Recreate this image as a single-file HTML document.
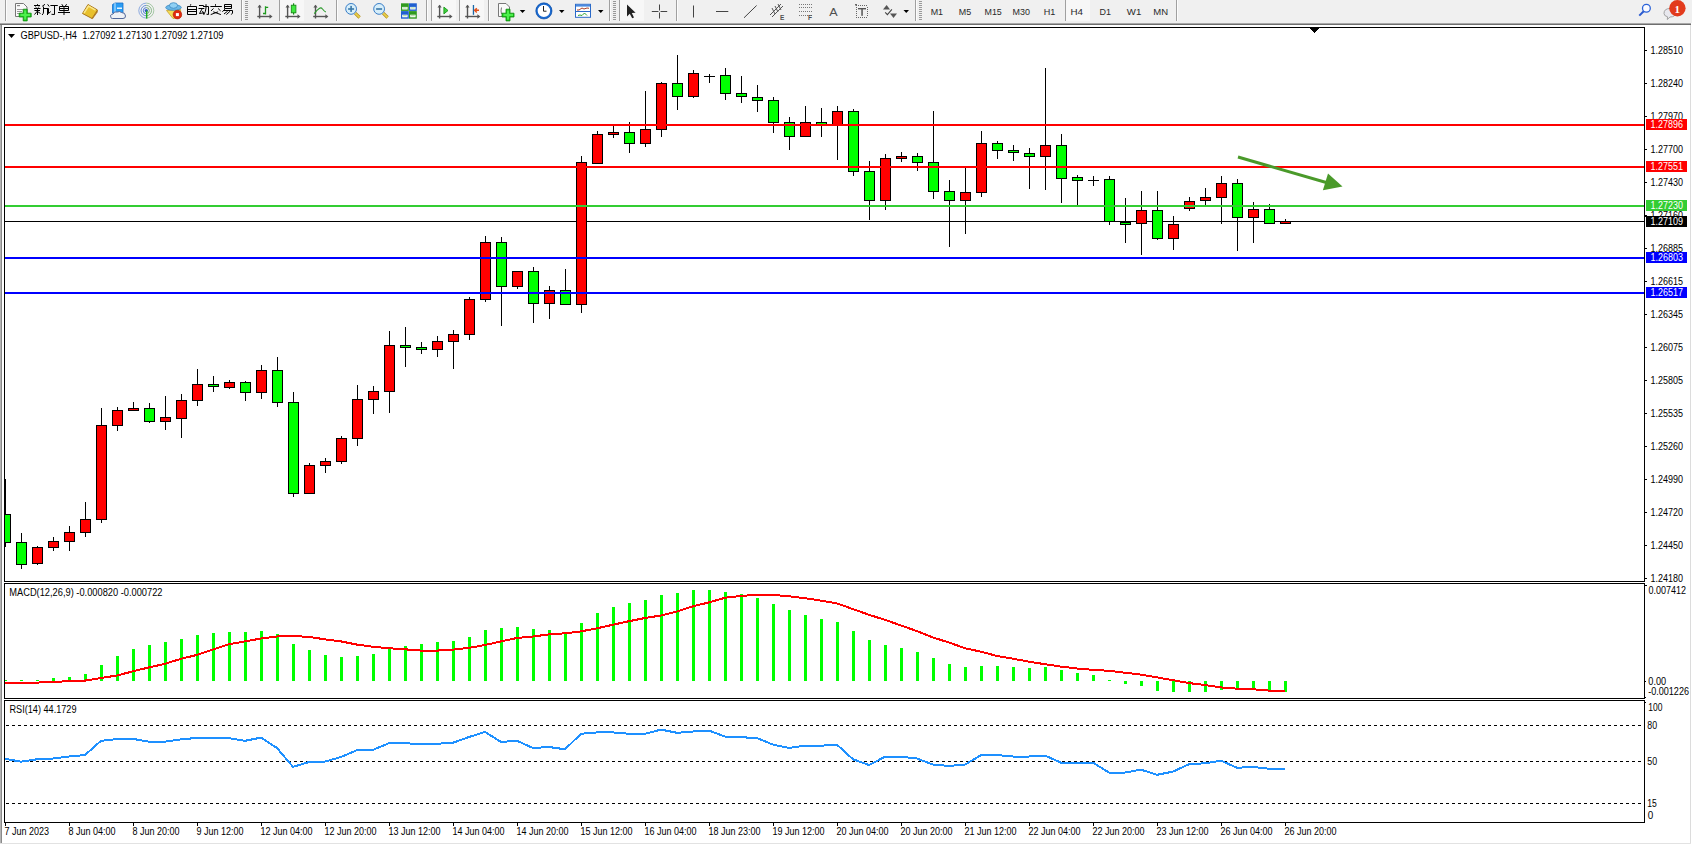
<!DOCTYPE html>
<html><head><meta charset="utf-8"><title>MT4 GBPUSD H4</title>
<style>
html,body{margin:0;padding:0;background:#fff;}
body{width:1692px;height:845px;overflow:hidden;position:relative;font-family:"Liberation Sans",sans-serif;}
svg{position:absolute;left:0;top:0;display:block;}
</style></head><body>
<svg width="1692" height="845" viewBox="0 0 1692 845">
<rect x="0" y="0" width="1692" height="23" fill="#f0f0f0"/><rect x="0" y="23" width="1691" height="1" fill="#a8a8a8"/><rect x="0" y="24" width="1691" height="1" fill="#6e6e6e"/><rect x="0" y="25" width="1692" height="820" fill="#ffffff"/><rect x="0" y="25" width="1" height="818" fill="#b4b4b4"/><rect x="1" y="25" width="1" height="818" fill="#8a8a8a"/><rect x="1690" y="25" width="1" height="818" fill="#dcdcdc"/><rect x="0" y="843" width="1691" height="1" fill="#e2e2e2"/><rect x="4" y="27" width="1641" height="1" fill="#000"/><rect x="4" y="27" width="1" height="555" fill="#000"/><rect x="1644" y="27" width="1" height="555" fill="#000"/><rect x="4" y="581" width="1641" height="1" fill="#000"/><rect x="4" y="583" width="1641" height="1" fill="#000"/><rect x="4" y="583" width="1" height="116" fill="#000"/><rect x="1644" y="583" width="1" height="116" fill="#000"/><rect x="4" y="698" width="1641" height="1" fill="#000"/><rect x="4" y="700" width="1641" height="1" fill="#000"/><rect x="4" y="700" width="1" height="123" fill="#000"/><rect x="1644" y="700" width="1" height="123" fill="#000"/><rect x="4" y="822" width="1641" height="1" fill="#000"/><defs><clipPath id="cm"><rect x="5" y="28" width="1639" height="553"/></clipPath><clipPath id="cd"><rect x="5" y="584" width="1639" height="114"/></clipPath><clipPath id="cr"><rect x="5" y="701" width="1639" height="121"/></clipPath></defs><g clip-path="url(#cm)" shape-rendering="crispEdges"><rect x="5" y="221" width="1639" height="1" fill="#000"/><rect x="5" y="479" width="1" height="68" fill="#000"/><rect x="0" y="514" width="11" height="29" fill="#000"/><rect x="1" y="515" width="9" height="27" fill="#00ff00"/><rect x="21" y="533" width="1" height="36" fill="#000"/><rect x="16" y="542" width="11" height="23" fill="#000"/><rect x="17" y="543" width="9" height="21" fill="#00ff00"/><rect x="37" y="546" width="1" height="19" fill="#000"/><rect x="32" y="547" width="11" height="17" fill="#000"/><rect x="33" y="548" width="9" height="15" fill="#ff0000"/><rect x="53" y="537" width="1" height="14" fill="#000"/><rect x="48" y="541" width="11" height="7" fill="#000"/><rect x="49" y="542" width="9" height="5" fill="#ff0000"/><rect x="69" y="526" width="1" height="25" fill="#000"/><rect x="64" y="532" width="11" height="10" fill="#000"/><rect x="65" y="533" width="9" height="8" fill="#ff0000"/><rect x="85" y="502" width="1" height="35" fill="#000"/><rect x="80" y="519" width="11" height="14" fill="#000"/><rect x="81" y="520" width="9" height="12" fill="#ff0000"/><rect x="101" y="408" width="1" height="115" fill="#000"/><rect x="96" y="425" width="11" height="95" fill="#000"/><rect x="97" y="426" width="9" height="93" fill="#ff0000"/><rect x="117" y="407" width="1" height="24" fill="#000"/><rect x="112" y="410" width="11" height="16" fill="#000"/><rect x="113" y="411" width="9" height="14" fill="#ff0000"/><rect x="133" y="402" width="1" height="9" fill="#000"/><rect x="128" y="408" width="11" height="3" fill="#000"/><rect x="129" y="409" width="9" height="1" fill="#ff0000"/><rect x="149" y="403" width="1" height="20" fill="#000"/><rect x="144" y="408" width="11" height="14" fill="#000"/><rect x="145" y="409" width="9" height="12" fill="#00ff00"/><rect x="165" y="396" width="1" height="34" fill="#000"/><rect x="160" y="417" width="11" height="5" fill="#000"/><rect x="161" y="418" width="9" height="3" fill="#ff0000"/><rect x="181" y="394" width="1" height="44" fill="#000"/><rect x="176" y="400" width="11" height="19" fill="#000"/><rect x="177" y="401" width="9" height="17" fill="#ff0000"/><rect x="197" y="369" width="1" height="37" fill="#000"/><rect x="192" y="384" width="11" height="17" fill="#000"/><rect x="193" y="385" width="9" height="15" fill="#ff0000"/><rect x="213" y="376" width="1" height="16" fill="#000"/><rect x="208" y="384" width="11" height="3" fill="#000"/><rect x="209" y="385" width="9" height="1" fill="#00ff00"/><rect x="229" y="380" width="1" height="9" fill="#000"/><rect x="224" y="382" width="11" height="6" fill="#000"/><rect x="225" y="383" width="9" height="4" fill="#ff0000"/><rect x="245" y="381" width="1" height="20" fill="#000"/><rect x="240" y="382" width="11" height="11" fill="#000"/><rect x="241" y="383" width="9" height="9" fill="#00ff00"/><rect x="261" y="365" width="1" height="34" fill="#000"/><rect x="256" y="370" width="11" height="23" fill="#000"/><rect x="257" y="371" width="9" height="21" fill="#ff0000"/><rect x="277" y="357" width="1" height="50" fill="#000"/><rect x="272" y="370" width="11" height="33" fill="#000"/><rect x="273" y="371" width="9" height="31" fill="#00ff00"/><rect x="293" y="392" width="1" height="105" fill="#000"/><rect x="288" y="402" width="11" height="92" fill="#000"/><rect x="289" y="403" width="9" height="90" fill="#00ff00"/><rect x="309" y="463" width="1" height="31" fill="#000"/><rect x="304" y="465" width="11" height="29" fill="#000"/><rect x="305" y="466" width="9" height="27" fill="#ff0000"/><rect x="325" y="458" width="1" height="15" fill="#000"/><rect x="320" y="461" width="11" height="5" fill="#000"/><rect x="321" y="462" width="9" height="3" fill="#ff0000"/><rect x="341" y="436" width="1" height="28" fill="#000"/><rect x="336" y="438" width="11" height="24" fill="#000"/><rect x="337" y="439" width="9" height="22" fill="#ff0000"/><rect x="357" y="385" width="1" height="61" fill="#000"/><rect x="352" y="399" width="11" height="40" fill="#000"/><rect x="353" y="400" width="9" height="38" fill="#ff0000"/><rect x="373" y="386" width="1" height="28" fill="#000"/><rect x="368" y="391" width="11" height="9" fill="#000"/><rect x="369" y="392" width="9" height="7" fill="#ff0000"/><rect x="389" y="331" width="1" height="82" fill="#000"/><rect x="384" y="345" width="11" height="47" fill="#000"/><rect x="385" y="346" width="9" height="45" fill="#ff0000"/><rect x="405" y="327" width="1" height="40" fill="#000"/><rect x="400" y="345" width="11" height="3" fill="#000"/><rect x="401" y="346" width="9" height="1" fill="#00ff00"/><rect x="421" y="342" width="1" height="12" fill="#000"/><rect x="416" y="347" width="11" height="3" fill="#000"/><rect x="417" y="348" width="9" height="1" fill="#00ff00"/><rect x="437" y="336" width="1" height="21" fill="#000"/><rect x="432" y="341" width="11" height="9" fill="#000"/><rect x="433" y="342" width="9" height="7" fill="#ff0000"/><rect x="453" y="330" width="1" height="39" fill="#000"/><rect x="448" y="334" width="11" height="8" fill="#000"/><rect x="449" y="335" width="9" height="6" fill="#ff0000"/><rect x="469" y="297" width="1" height="43" fill="#000"/><rect x="464" y="299" width="11" height="36" fill="#000"/><rect x="465" y="300" width="9" height="34" fill="#ff0000"/><rect x="485" y="236" width="1" height="66" fill="#000"/><rect x="480" y="242" width="11" height="58" fill="#000"/><rect x="481" y="243" width="9" height="56" fill="#ff0000"/><rect x="501" y="237" width="1" height="89" fill="#000"/><rect x="496" y="242" width="11" height="45" fill="#000"/><rect x="497" y="243" width="9" height="43" fill="#00ff00"/><rect x="517" y="271" width="1" height="18" fill="#000"/><rect x="512" y="271" width="11" height="16" fill="#000"/><rect x="513" y="272" width="9" height="14" fill="#ff0000"/><rect x="533" y="267" width="1" height="56" fill="#000"/><rect x="528" y="271" width="11" height="33" fill="#000"/><rect x="529" y="272" width="9" height="31" fill="#00ff00"/><rect x="549" y="286" width="1" height="33" fill="#000"/><rect x="544" y="290" width="11" height="14" fill="#000"/><rect x="545" y="291" width="9" height="12" fill="#ff0000"/><rect x="565" y="269" width="1" height="36" fill="#000"/><rect x="560" y="290" width="11" height="15" fill="#000"/><rect x="561" y="291" width="9" height="13" fill="#00ff00"/><rect x="581" y="156" width="1" height="157" fill="#000"/><rect x="576" y="162" width="11" height="143" fill="#000"/><rect x="577" y="163" width="9" height="141" fill="#ff0000"/><rect x="597" y="131" width="1" height="33" fill="#000"/><rect x="592" y="134" width="11" height="30" fill="#000"/><rect x="593" y="135" width="9" height="28" fill="#ff0000"/><rect x="613" y="126" width="1" height="12" fill="#000"/><rect x="608" y="132" width="11" height="3" fill="#000"/><rect x="609" y="133" width="9" height="1" fill="#ff0000"/><rect x="629" y="122" width="1" height="31" fill="#000"/><rect x="624" y="132" width="11" height="12" fill="#000"/><rect x="625" y="133" width="9" height="10" fill="#00ff00"/><rect x="645" y="91" width="1" height="56" fill="#000"/><rect x="640" y="129" width="11" height="15" fill="#000"/><rect x="641" y="130" width="9" height="13" fill="#ff0000"/><rect x="661" y="82" width="1" height="55" fill="#000"/><rect x="656" y="83" width="11" height="47" fill="#000"/><rect x="657" y="84" width="9" height="45" fill="#ff0000"/><rect x="677" y="55" width="1" height="55" fill="#000"/><rect x="672" y="83" width="11" height="14" fill="#000"/><rect x="673" y="84" width="9" height="12" fill="#00ff00"/><rect x="693" y="70" width="1" height="28" fill="#000"/><rect x="688" y="73" width="11" height="24" fill="#000"/><rect x="689" y="74" width="9" height="22" fill="#ff0000"/><rect x="709" y="74" width="1" height="9" fill="#000"/><rect x="704" y="76" width="11" height="1" fill="#000"/><rect x="725" y="68" width="1" height="32" fill="#000"/><rect x="720" y="75" width="11" height="19" fill="#000"/><rect x="721" y="76" width="9" height="17" fill="#00ff00"/><rect x="741" y="76" width="1" height="27" fill="#000"/><rect x="736" y="93" width="11" height="4" fill="#000"/><rect x="737" y="94" width="9" height="2" fill="#00ff00"/><rect x="757" y="85" width="1" height="27" fill="#000"/><rect x="752" y="97" width="11" height="4" fill="#000"/><rect x="753" y="98" width="9" height="2" fill="#00ff00"/><rect x="773" y="97" width="1" height="36" fill="#000"/><rect x="768" y="100" width="11" height="23" fill="#000"/><rect x="769" y="101" width="9" height="21" fill="#00ff00"/><rect x="789" y="117" width="1" height="33" fill="#000"/><rect x="784" y="122" width="11" height="15" fill="#000"/><rect x="785" y="123" width="9" height="13" fill="#00ff00"/><rect x="805" y="106" width="1" height="31" fill="#000"/><rect x="800" y="122" width="11" height="15" fill="#000"/><rect x="801" y="123" width="9" height="13" fill="#ff0000"/><rect x="821" y="108" width="1" height="29" fill="#000"/><rect x="816" y="122" width="11" height="3" fill="#000"/><rect x="817" y="123" width="9" height="1" fill="#00ff00"/><rect x="837" y="106" width="1" height="54" fill="#000"/><rect x="832" y="111" width="11" height="14" fill="#000"/><rect x="833" y="112" width="9" height="12" fill="#ff0000"/><rect x="853" y="109" width="1" height="67" fill="#000"/><rect x="848" y="111" width="11" height="61" fill="#000"/><rect x="849" y="112" width="9" height="59" fill="#00ff00"/><rect x="869" y="161" width="1" height="59" fill="#000"/><rect x="864" y="171" width="11" height="30" fill="#000"/><rect x="865" y="172" width="9" height="28" fill="#00ff00"/><rect x="885" y="154" width="1" height="56" fill="#000"/><rect x="880" y="158" width="11" height="43" fill="#000"/><rect x="881" y="159" width="9" height="41" fill="#ff0000"/><rect x="901" y="152" width="1" height="10" fill="#000"/><rect x="896" y="156" width="11" height="3" fill="#000"/><rect x="897" y="157" width="9" height="1" fill="#ff0000"/><rect x="917" y="153" width="1" height="18" fill="#000"/><rect x="912" y="156" width="11" height="7" fill="#000"/><rect x="913" y="157" width="9" height="5" fill="#00ff00"/><rect x="933" y="111" width="1" height="88" fill="#000"/><rect x="928" y="162" width="11" height="30" fill="#000"/><rect x="929" y="163" width="9" height="28" fill="#00ff00"/><rect x="949" y="180" width="1" height="67" fill="#000"/><rect x="944" y="191" width="11" height="10" fill="#000"/><rect x="945" y="192" width="9" height="8" fill="#00ff00"/><rect x="965" y="167" width="1" height="67" fill="#000"/><rect x="960" y="192" width="11" height="9" fill="#000"/><rect x="961" y="193" width="9" height="7" fill="#ff0000"/><rect x="981" y="131" width="1" height="66" fill="#000"/><rect x="976" y="143" width="11" height="50" fill="#000"/><rect x="977" y="144" width="9" height="48" fill="#ff0000"/><rect x="997" y="141" width="1" height="18" fill="#000"/><rect x="992" y="143" width="11" height="8" fill="#000"/><rect x="993" y="144" width="9" height="6" fill="#00ff00"/><rect x="1013" y="145" width="1" height="16" fill="#000"/><rect x="1008" y="150" width="11" height="3" fill="#000"/><rect x="1009" y="151" width="9" height="1" fill="#00ff00"/><rect x="1029" y="148" width="1" height="41" fill="#000"/><rect x="1024" y="153" width="11" height="4" fill="#000"/><rect x="1025" y="154" width="9" height="2" fill="#00ff00"/><rect x="1045" y="68" width="1" height="122" fill="#000"/><rect x="1040" y="145" width="11" height="12" fill="#000"/><rect x="1041" y="146" width="9" height="10" fill="#ff0000"/><rect x="1061" y="134" width="1" height="69" fill="#000"/><rect x="1056" y="145" width="11" height="34" fill="#000"/><rect x="1057" y="146" width="9" height="32" fill="#00ff00"/><rect x="1077" y="175" width="1" height="30" fill="#000"/><rect x="1072" y="177" width="11" height="4" fill="#000"/><rect x="1073" y="178" width="9" height="2" fill="#00ff00"/><rect x="1093" y="176" width="1" height="10" fill="#000"/><rect x="1088" y="180" width="11" height="1" fill="#000"/><rect x="1109" y="176" width="1" height="49" fill="#000"/><rect x="1104" y="179" width="11" height="43" fill="#000"/><rect x="1105" y="180" width="9" height="41" fill="#00ff00"/><rect x="1125" y="198" width="1" height="45" fill="#000"/><rect x="1120" y="222" width="11" height="3" fill="#000"/><rect x="1121" y="223" width="9" height="1" fill="#00ff00"/><rect x="1141" y="191" width="1" height="64" fill="#000"/><rect x="1136" y="210" width="11" height="14" fill="#000"/><rect x="1137" y="211" width="9" height="12" fill="#ff0000"/><rect x="1157" y="191" width="1" height="49" fill="#000"/><rect x="1152" y="210" width="11" height="29" fill="#000"/><rect x="1153" y="211" width="9" height="27" fill="#00ff00"/><rect x="1173" y="216" width="1" height="34" fill="#000"/><rect x="1168" y="224" width="11" height="15" fill="#000"/><rect x="1169" y="225" width="9" height="13" fill="#ff0000"/><rect x="1189" y="197" width="1" height="14" fill="#000"/><rect x="1184" y="201" width="11" height="8" fill="#000"/><rect x="1185" y="202" width="9" height="6" fill="#ff0000"/><rect x="1205" y="188" width="1" height="17" fill="#000"/><rect x="1200" y="197" width="11" height="4" fill="#000"/><rect x="1201" y="198" width="9" height="2" fill="#ff0000"/><rect x="1221" y="176" width="1" height="48" fill="#000"/><rect x="1216" y="183" width="11" height="15" fill="#000"/><rect x="1217" y="184" width="9" height="13" fill="#ff0000"/><rect x="1237" y="179" width="1" height="72" fill="#000"/><rect x="1232" y="183" width="11" height="35" fill="#000"/><rect x="1233" y="184" width="9" height="33" fill="#00ff00"/><rect x="1253" y="202" width="1" height="41" fill="#000"/><rect x="1248" y="209" width="11" height="9" fill="#000"/><rect x="1249" y="210" width="9" height="7" fill="#ff0000"/><rect x="1269" y="204" width="1" height="20" fill="#000"/><rect x="1264" y="209" width="11" height="15" fill="#000"/><rect x="1265" y="210" width="9" height="13" fill="#00ff00"/><rect x="1285" y="219" width="1" height="5" fill="#000"/><rect x="1280" y="221" width="11" height="3" fill="#000"/><rect x="1281" y="222" width="9" height="1" fill="#ff0000"/><rect x="5" y="124" width="1639" height="2" fill="#ff0000"/><rect x="5" y="166" width="1639" height="2" fill="#ff0000"/><rect x="5" y="205" width="1639" height="2" fill="#32cd32"/><rect x="5" y="257" width="1639" height="2" fill="#0000ff"/><rect x="5" y="292" width="1639" height="2" fill="#0000ff"/><polygon points="1309.5,28 1319.5,28 1314.5,33.5" fill="#000"/></g><g><line x1="1238" y1="157" x2="1328" y2="183" stroke="#4a9a2a" stroke-width="3" stroke-linecap="butt"/><polygon points="1328,173.4 1342.5,186.5 1322.9,190.3" fill="#4a9a2a"/></g><g clip-path="url(#cd)" shape-rendering="crispEdges"><rect x="4" y="680" width="3" height="1" fill="#00ff00"/><rect x="20" y="680" width="3" height="1" fill="#00ff00"/><rect x="36" y="680" width="3" height="1" fill="#00ff00"/><rect x="52" y="678" width="3" height="3" fill="#00ff00"/><rect x="68" y="677" width="3" height="4" fill="#00ff00"/><rect x="84" y="674" width="3" height="7" fill="#00ff00"/><rect x="100" y="665" width="3" height="16" fill="#00ff00"/><rect x="116" y="656" width="3" height="25" fill="#00ff00"/><rect x="132" y="649" width="3" height="32" fill="#00ff00"/><rect x="148" y="645" width="3" height="36" fill="#00ff00"/><rect x="164" y="642" width="3" height="39" fill="#00ff00"/><rect x="180" y="639" width="3" height="42" fill="#00ff00"/><rect x="196" y="635" width="3" height="46" fill="#00ff00"/><rect x="212" y="633" width="3" height="48" fill="#00ff00"/><rect x="228" y="632" width="3" height="49" fill="#00ff00"/><rect x="244" y="632" width="3" height="49" fill="#00ff00"/><rect x="260" y="631" width="3" height="50" fill="#00ff00"/><rect x="276" y="634" width="3" height="47" fill="#00ff00"/><rect x="292" y="644" width="3" height="37" fill="#00ff00"/><rect x="308" y="650" width="3" height="31" fill="#00ff00"/><rect x="324" y="655" width="3" height="26" fill="#00ff00"/><rect x="340" y="657" width="3" height="24" fill="#00ff00"/><rect x="356" y="656" width="3" height="25" fill="#00ff00"/><rect x="372" y="654" width="3" height="27" fill="#00ff00"/><rect x="388" y="649" width="3" height="32" fill="#00ff00"/><rect x="404" y="646" width="3" height="35" fill="#00ff00"/><rect x="420" y="644" width="3" height="37" fill="#00ff00"/><rect x="436" y="642" width="3" height="39" fill="#00ff00"/><rect x="452" y="641" width="3" height="40" fill="#00ff00"/><rect x="468" y="637" width="3" height="44" fill="#00ff00"/><rect x="484" y="630" width="3" height="51" fill="#00ff00"/><rect x="500" y="628" width="3" height="53" fill="#00ff00"/><rect x="516" y="627" width="3" height="54" fill="#00ff00"/><rect x="532" y="629" width="3" height="52" fill="#00ff00"/><rect x="548" y="630" width="3" height="51" fill="#00ff00"/><rect x="564" y="632" width="3" height="49" fill="#00ff00"/><rect x="580" y="623" width="3" height="58" fill="#00ff00"/><rect x="596" y="613" width="3" height="68" fill="#00ff00"/><rect x="612" y="607" width="3" height="74" fill="#00ff00"/><rect x="628" y="603" width="3" height="78" fill="#00ff00"/><rect x="644" y="600" width="3" height="81" fill="#00ff00"/><rect x="660" y="595" width="3" height="86" fill="#00ff00"/><rect x="676" y="593" width="3" height="88" fill="#00ff00"/><rect x="692" y="590" width="3" height="91" fill="#00ff00"/><rect x="708" y="590" width="3" height="91" fill="#00ff00"/><rect x="724" y="592" width="3" height="89" fill="#00ff00"/><rect x="740" y="594" width="3" height="87" fill="#00ff00"/><rect x="756" y="598" width="3" height="83" fill="#00ff00"/><rect x="772" y="604" width="3" height="77" fill="#00ff00"/><rect x="788" y="610" width="3" height="71" fill="#00ff00"/><rect x="804" y="615" width="3" height="66" fill="#00ff00"/><rect x="820" y="619" width="3" height="62" fill="#00ff00"/><rect x="836" y="622" width="3" height="59" fill="#00ff00"/><rect x="852" y="631" width="3" height="50" fill="#00ff00"/><rect x="868" y="640" width="3" height="41" fill="#00ff00"/><rect x="884" y="645" width="3" height="36" fill="#00ff00"/><rect x="900" y="648" width="3" height="33" fill="#00ff00"/><rect x="916" y="652" width="3" height="29" fill="#00ff00"/><rect x="932" y="658" width="3" height="23" fill="#00ff00"/><rect x="948" y="664" width="3" height="17" fill="#00ff00"/><rect x="964" y="667" width="3" height="14" fill="#00ff00"/><rect x="980" y="666" width="3" height="15" fill="#00ff00"/><rect x="996" y="666" width="3" height="15" fill="#00ff00"/><rect x="1012" y="667" width="3" height="14" fill="#00ff00"/><rect x="1028" y="668" width="3" height="13" fill="#00ff00"/><rect x="1044" y="667" width="3" height="14" fill="#00ff00"/><rect x="1060" y="670" width="3" height="11" fill="#00ff00"/><rect x="1076" y="673" width="3" height="8" fill="#00ff00"/><rect x="1092" y="675" width="3" height="6" fill="#00ff00"/><rect x="1108" y="680" width="3" height="1" fill="#00ff00"/><rect x="1124" y="681" width="3" height="3" fill="#00ff00"/><rect x="1140" y="681" width="3" height="5" fill="#00ff00"/><rect x="1156" y="681" width="3" height="10" fill="#00ff00"/><rect x="1172" y="681" width="3" height="11" fill="#00ff00"/><rect x="1188" y="681" width="3" height="11" fill="#00ff00"/><rect x="1204" y="681" width="3" height="11" fill="#00ff00"/><rect x="1220" y="681" width="3" height="9" fill="#00ff00"/><rect x="1236" y="681" width="3" height="9" fill="#00ff00"/><rect x="1252" y="681" width="3" height="9" fill="#00ff00"/><rect x="1268" y="681" width="3" height="11" fill="#00ff00"/><rect x="1284" y="681" width="3" height="11" fill="#00ff00"/></g><g clip-path="url(#cd)"><polyline points="0,683.0 21,682.6 37,682.6 53,682.0 69,681.1 85,680.6 101,678.0 117,675.5 133,671.3 149,667.4 165,663.8 181,658.8 197,654.9 213,649.4 229,644.2 245,641.4 261,638.5 277,636.5 293,636.1 309,636.8 325,639.4 341,641.4 357,644.6 373,646.8 389,648.2 405,649.3 421,650.6 437,650.6 453,649.6 469,647.9 485,645.0 501,641.4 517,638.0 533,636.5 549,634.4 565,633.3 581,631.4 597,628.3 613,624.7 629,621.2 645,618.0 661,615.5 677,611.5 693,606.3 709,602.4 725,597.8 741,595.9 757,594.9 773,594.9 789,596.3 805,598.2 821,600.6 837,603.4 853,609.1 869,614.8 885,619.8 901,625.5 917,631.1 933,637.5 949,642.5 965,648.2 981,651.7 997,656.0 1013,658.7 1029,661.7 1045,664.2 1061,666.6 1077,668.5 1093,669.8 1109,670.8 1125,672.7 1141,674.6 1157,677.4 1173,680.2 1189,683.1 1205,685.0 1221,687.4 1237,688.7 1253,689.3 1269,690.6 1285,691.2" fill="none" stroke="#ff0000" stroke-width="2" shape-rendering="crispEdges"/></g><g clip-path="url(#cr)"><line x1="6" y1="725.5" x2="1644" y2="725.5" stroke="#000" stroke-width="1" stroke-dasharray="3,3"/><line x1="6" y1="761.5" x2="1644" y2="761.5" stroke="#000" stroke-width="1" stroke-dasharray="3,3"/><line x1="6" y1="803.5" x2="1644" y2="803.5" stroke="#000" stroke-width="1" stroke-dasharray="3,3"/><polyline points="5,758.9 21,761.6 37,759.3 53,758.5 69,756.5 85,755.1 101,740.8 117,739.1 133,738.9 149,741.7 165,741.7 181,739.4 197,737.9 213,737.9 229,738.1 245,740.8 261,737.6 277,748.0 293,766.9 309,762.1 325,761.6 341,757.0 357,750.2 373,749.8 389,743.2 405,743.2 421,744.2 437,743.8 453,742.7 469,737.0 485,731.9 501,741.9 517,740.8 533,748.0 549,747.0 565,749.3 581,733.8 597,732.4 613,732.4 629,733.8 645,733.8 661,729.6 677,732.8 693,731.5 709,730.6 725,736.6 741,737.2 757,738.1 773,744.6 789,748.0 805,745.7 821,745.7 837,744.7 853,759.3 869,765.0 885,756.8 901,756.8 917,758.5 933,764.6 949,765.9 965,764.6 981,755.1 997,755.1 1013,756.5 1029,756.5 1045,755.5 1061,762.7 1077,762.7 1093,762.7 1109,772.5 1125,772.5 1141,769.7 1157,774.8 1173,771.6 1189,764.2 1205,763.3 1221,760.7 1237,767.8 1253,766.9 1269,768.7 1285,768.7" fill="none" stroke="#1e90ff" stroke-width="2" shape-rendering="crispEdges"/></g><g><rect x="1645" y="50" width="2" height="1" fill="#000"/><rect x="1645" y="83" width="2" height="1" fill="#000"/><rect x="1645" y="116" width="2" height="1" fill="#000"/><rect x="1645" y="149" width="2" height="1" fill="#000"/><rect x="1645" y="182" width="2" height="1" fill="#000"/><rect x="1645" y="215" width="2" height="1" fill="#000"/><rect x="1645" y="248" width="2" height="1" fill="#000"/><rect x="1645" y="281" width="2" height="1" fill="#000"/><rect x="1645" y="314" width="2" height="1" fill="#000"/><rect x="1645" y="347" width="2" height="1" fill="#000"/><rect x="1645" y="380" width="2" height="1" fill="#000"/><rect x="1645" y="413" width="2" height="1" fill="#000"/><rect x="1645" y="446" width="2" height="1" fill="#000"/><rect x="1645" y="479" width="2" height="1" fill="#000"/><rect x="1645" y="512" width="2" height="1" fill="#000"/><rect x="1645" y="545" width="2" height="1" fill="#000"/><rect x="1645" y="578" width="2" height="1" fill="#000"/><text x="1650.5" y="54.2" font-family="Liberation Sans" font-size="10.0" fill="#000" textLength="32.5" lengthAdjust="spacingAndGlyphs">1.28510</text><text x="1650.5" y="87.2" font-family="Liberation Sans" font-size="10.0" fill="#000" textLength="32.5" lengthAdjust="spacingAndGlyphs">1.28240</text><text x="1650.5" y="120.2" font-family="Liberation Sans" font-size="10.0" fill="#000" textLength="32.5" lengthAdjust="spacingAndGlyphs">1.27970</text><text x="1650.5" y="153.2" font-family="Liberation Sans" font-size="10.0" fill="#000" textLength="32.5" lengthAdjust="spacingAndGlyphs">1.27700</text><text x="1650.5" y="186.2" font-family="Liberation Sans" font-size="10.0" fill="#000" textLength="32.5" lengthAdjust="spacingAndGlyphs">1.27430</text><text x="1650.5" y="219.2" font-family="Liberation Sans" font-size="10.0" fill="#000" textLength="32.5" lengthAdjust="spacingAndGlyphs">1.27160</text><text x="1650.5" y="252.2" font-family="Liberation Sans" font-size="10.0" fill="#000" textLength="32.5" lengthAdjust="spacingAndGlyphs">1.26885</text><text x="1650.5" y="285.2" font-family="Liberation Sans" font-size="10.0" fill="#000" textLength="32.5" lengthAdjust="spacingAndGlyphs">1.26615</text><text x="1650.5" y="318.2" font-family="Liberation Sans" font-size="10.0" fill="#000" textLength="32.5" lengthAdjust="spacingAndGlyphs">1.26345</text><text x="1650.5" y="351.2" font-family="Liberation Sans" font-size="10.0" fill="#000" textLength="32.5" lengthAdjust="spacingAndGlyphs">1.26075</text><text x="1650.5" y="384.2" font-family="Liberation Sans" font-size="10.0" fill="#000" textLength="32.5" lengthAdjust="spacingAndGlyphs">1.25805</text><text x="1650.5" y="417.2" font-family="Liberation Sans" font-size="10.0" fill="#000" textLength="32.5" lengthAdjust="spacingAndGlyphs">1.25535</text><text x="1650.5" y="450.2" font-family="Liberation Sans" font-size="10.0" fill="#000" textLength="32.5" lengthAdjust="spacingAndGlyphs">1.25260</text><text x="1650.5" y="483.2" font-family="Liberation Sans" font-size="10.0" fill="#000" textLength="32.5" lengthAdjust="spacingAndGlyphs">1.24990</text><text x="1650.5" y="516.2" font-family="Liberation Sans" font-size="10.0" fill="#000" textLength="32.5" lengthAdjust="spacingAndGlyphs">1.24720</text><text x="1650.5" y="549.2" font-family="Liberation Sans" font-size="10.0" fill="#000" textLength="32.5" lengthAdjust="spacingAndGlyphs">1.24450</text><text x="1650.5" y="582.2" font-family="Liberation Sans" font-size="10.0" fill="#000" textLength="32.5" lengthAdjust="spacingAndGlyphs">1.24180</text></g><rect x="1646" y="119" width="41" height="11" fill="#ff0000"/><text x="1650.5" y="128.2" font-family="Liberation Sans" font-size="10.0" fill="#fff" textLength="32.5" lengthAdjust="spacingAndGlyphs">1.27896</text><rect x="1646" y="161" width="41" height="11" fill="#ff0000"/><text x="1650.5" y="170.2" font-family="Liberation Sans" font-size="10.0" fill="#fff" textLength="32.5" lengthAdjust="spacingAndGlyphs">1.27551</text><rect x="1646" y="200" width="41" height="11" fill="#32cd32"/><text x="1650.5" y="209.2" font-family="Liberation Sans" font-size="10.0" fill="#fff" textLength="32.5" lengthAdjust="spacingAndGlyphs">1.27230</text><rect x="1645" y="216" width="6" height="1" fill="#000"/><rect x="1646" y="216" width="41" height="11" fill="#000000"/><text x="1650.5" y="225.2" font-family="Liberation Sans" font-size="10.0" fill="#fff" textLength="32.5" lengthAdjust="spacingAndGlyphs">1.27109</text><rect x="1646" y="252" width="41" height="11" fill="#0000ff"/><text x="1650.5" y="261.2" font-family="Liberation Sans" font-size="10.0" fill="#fff" textLength="32.5" lengthAdjust="spacingAndGlyphs">1.26803</text><rect x="1646" y="287" width="41" height="11" fill="#0000ff"/><text x="1650.5" y="296.2" font-family="Liberation Sans" font-size="10.0" fill="#fff" textLength="32.5" lengthAdjust="spacingAndGlyphs">1.26517</text><rect x="1645" y="681" width="1" height="1" fill="#000"/><rect x="1645" y="697" width="1" height="1" fill="#000"/><rect x="1645" y="702" width="1" height="1" fill="#000"/><rect x="1645" y="585" width="2" height="1" fill="#000"/><text x="1648.5" y="593.6" font-family="Liberation Sans" font-size="10.0" fill="#000" textLength="37.5" lengthAdjust="spacingAndGlyphs">0.007412</text><text x="1648.3" y="685.2" font-family="Liberation Sans" font-size="10.0" fill="#000" textLength="17.8" lengthAdjust="spacingAndGlyphs">0.00</text><text x="1648.2" y="694.8" font-family="Liberation Sans" font-size="10.0" fill="#000" textLength="40.8" lengthAdjust="spacingAndGlyphs">-0.001226</text><text x="1648.3" y="711" font-family="Liberation Sans" font-size="10.0" fill="#000" textLength="14.2" lengthAdjust="spacingAndGlyphs">100</text><text x="1647.3" y="729" font-family="Liberation Sans" font-size="10.0" fill="#000" textLength="9.8" lengthAdjust="spacingAndGlyphs">80</text><text x="1647.3" y="764.8" font-family="Liberation Sans" font-size="10.0" fill="#000" textLength="9.8" lengthAdjust="spacingAndGlyphs">50</text><text x="1647.3" y="806.7" font-family="Liberation Sans" font-size="10.0" fill="#000" textLength="9.5" lengthAdjust="spacingAndGlyphs">15</text><text x="1647.8" y="818.8" font-family="Liberation Sans" font-size="10.0" fill="#000" textLength="5.5" lengthAdjust="spacingAndGlyphs">0</text><g><rect x="5" y="823" width="1" height="3" fill="#000"/><text x="4.5" y="835" font-family="Liberation Sans" font-size="10.0" fill="#000" textLength="44.5" lengthAdjust="spacingAndGlyphs">7 Jun 2023</text><rect x="69" y="823" width="1" height="3" fill="#000"/><text x="68.5" y="835" font-family="Liberation Sans" font-size="10.0" fill="#000" textLength="47.0" lengthAdjust="spacingAndGlyphs">8 Jun 04:00</text><rect x="133" y="823" width="1" height="3" fill="#000"/><text x="132.5" y="835" font-family="Liberation Sans" font-size="10.0" fill="#000" textLength="47.0" lengthAdjust="spacingAndGlyphs">8 Jun 20:00</text><rect x="197" y="823" width="1" height="3" fill="#000"/><text x="196.5" y="835" font-family="Liberation Sans" font-size="10.0" fill="#000" textLength="47.0" lengthAdjust="spacingAndGlyphs">9 Jun 12:00</text><rect x="261" y="823" width="1" height="3" fill="#000"/><text x="260.5" y="835" font-family="Liberation Sans" font-size="10.0" fill="#000" textLength="52.0" lengthAdjust="spacingAndGlyphs">12 Jun 04:00</text><rect x="325" y="823" width="1" height="3" fill="#000"/><text x="324.5" y="835" font-family="Liberation Sans" font-size="10.0" fill="#000" textLength="52.0" lengthAdjust="spacingAndGlyphs">12 Jun 20:00</text><rect x="389" y="823" width="1" height="3" fill="#000"/><text x="388.5" y="835" font-family="Liberation Sans" font-size="10.0" fill="#000" textLength="52.0" lengthAdjust="spacingAndGlyphs">13 Jun 12:00</text><rect x="453" y="823" width="1" height="3" fill="#000"/><text x="452.5" y="835" font-family="Liberation Sans" font-size="10.0" fill="#000" textLength="52.0" lengthAdjust="spacingAndGlyphs">14 Jun 04:00</text><rect x="517" y="823" width="1" height="3" fill="#000"/><text x="516.5" y="835" font-family="Liberation Sans" font-size="10.0" fill="#000" textLength="52.0" lengthAdjust="spacingAndGlyphs">14 Jun 20:00</text><rect x="581" y="823" width="1" height="3" fill="#000"/><text x="580.5" y="835" font-family="Liberation Sans" font-size="10.0" fill="#000" textLength="52.0" lengthAdjust="spacingAndGlyphs">15 Jun 12:00</text><rect x="645" y="823" width="1" height="3" fill="#000"/><text x="644.5" y="835" font-family="Liberation Sans" font-size="10.0" fill="#000" textLength="52.0" lengthAdjust="spacingAndGlyphs">16 Jun 04:00</text><rect x="709" y="823" width="1" height="3" fill="#000"/><text x="708.5" y="835" font-family="Liberation Sans" font-size="10.0" fill="#000" textLength="52.0" lengthAdjust="spacingAndGlyphs">18 Jun 23:00</text><rect x="773" y="823" width="1" height="3" fill="#000"/><text x="772.5" y="835" font-family="Liberation Sans" font-size="10.0" fill="#000" textLength="52.0" lengthAdjust="spacingAndGlyphs">19 Jun 12:00</text><rect x="837" y="823" width="1" height="3" fill="#000"/><text x="836.5" y="835" font-family="Liberation Sans" font-size="10.0" fill="#000" textLength="52.0" lengthAdjust="spacingAndGlyphs">20 Jun 04:00</text><rect x="901" y="823" width="1" height="3" fill="#000"/><text x="900.5" y="835" font-family="Liberation Sans" font-size="10.0" fill="#000" textLength="52.0" lengthAdjust="spacingAndGlyphs">20 Jun 20:00</text><rect x="965" y="823" width="1" height="3" fill="#000"/><text x="964.5" y="835" font-family="Liberation Sans" font-size="10.0" fill="#000" textLength="52.0" lengthAdjust="spacingAndGlyphs">21 Jun 12:00</text><rect x="1029" y="823" width="1" height="3" fill="#000"/><text x="1028.5" y="835" font-family="Liberation Sans" font-size="10.0" fill="#000" textLength="52.0" lengthAdjust="spacingAndGlyphs">22 Jun 04:00</text><rect x="1093" y="823" width="1" height="3" fill="#000"/><text x="1092.5" y="835" font-family="Liberation Sans" font-size="10.0" fill="#000" textLength="52.0" lengthAdjust="spacingAndGlyphs">22 Jun 20:00</text><rect x="1157" y="823" width="1" height="3" fill="#000"/><text x="1156.5" y="835" font-family="Liberation Sans" font-size="10.0" fill="#000" textLength="52.0" lengthAdjust="spacingAndGlyphs">23 Jun 12:00</text><rect x="1221" y="823" width="1" height="3" fill="#000"/><text x="1220.5" y="835" font-family="Liberation Sans" font-size="10.0" fill="#000" textLength="52.0" lengthAdjust="spacingAndGlyphs">26 Jun 04:00</text><rect x="1285" y="823" width="1" height="3" fill="#000"/><text x="1284.5" y="835" font-family="Liberation Sans" font-size="10.0" fill="#000" textLength="52.0" lengthAdjust="spacingAndGlyphs">26 Jun 20:00</text></g><polygon points="8,34 15,34 11.5,38" fill="#000"/><text x="20.5" y="38.8" font-family="Liberation Sans" font-size="10.0" fill="#000" textLength="203" lengthAdjust="spacingAndGlyphs" xml:space="preserve">GBPUSD-,H4  1.27092 1.27130 1.27092 1.27109</text><text x="9.3" y="596.3" font-family="Liberation Sans" font-size="10.0" fill="#000" textLength="153.2" lengthAdjust="spacingAndGlyphs">MACD(12,26,9) -0.000820 -0.000722</text><text x="9.5" y="713" font-family="Liberation Sans" font-size="10.0" fill="#000" textLength="67" lengthAdjust="spacingAndGlyphs">RSI(14) 44.1729</text>
<rect x="5" y="0" width="1" height="21" fill="#a0a0a0"/><rect x="6" y="0" width="1" height="21" fill="#ffffff" opacity="0.8"/><path d="M15.5,3.5 h8 l3.5,3.5 v9.5 h-11.5 z" fill="#fafafa" stroke="#777" stroke-width="1"/><rect x="17" y="5" width="3" height="1.2" fill="#888"/><rect x="17" y="9" width="6" height="1" fill="#999"/><rect x="17" y="11" width="5" height="1" fill="#999"/><rect x="17" y="13" width="4" height="1" fill="#999"/><path d="M23.2,9.2 h4 v4 h4 v3.8 h-4 v3.9 h-4 v-3.9 h-4 v-3.8 h4 z" fill="#22c822" stroke="#0a8a0a" stroke-width="0.8"/><rect x="24.2" y="10.5" width="2" height="9" fill="#4cf04c"/><rect x="20.5" y="14" width="9.5" height="2" fill="#4cf04c"/><g fill="none" stroke="#000" stroke-width="1"><path d="M37.5,4.2 V5.3"/><path d="M34,5.5 H40"/><path d="M35.5,6.5 L36.2,7.6"/><path d="M39,6.5 L38.3,7.6"/><path d="M34,8.5 H40.5"/><path d="M34.5,10.5 H40"/><path d="M37.5,8.5 V15"/><path d="M37.5,11 L34.5,14.5"/><path d="M37.5,11.5 L40.5,13.5"/><path d="M45,4.3 L42.2,6.3"/><path d="M43.5,6.5 V12 Q43.5,14 42,15"/><path d="M43.5,8.5 H48"/><path d="M47.5,8.5 V15"/><path d="M47.6,4.3 L49.2,6.5"/><path d="M47,8.5 H48.5 V13.5 L50.8,11.5"/><path d="M50.4,5.5 H57.8"/><path d="M54.5,5.5 V14.5 L51.5,14.3"/><path d="M61.8,4.2 L63,6"/><path d="M66.6,4.2 L65.4,6"/><path d="M59.5,6.5 H68.5 V10.5 H59.5 Z"/><path d="M59.5,8.5 H68.5"/><path d="M64,6.5 V15"/><path d="M58,12.5 H70"/></g><path d="M82.5,13.5 L88,4.5 L97.5,10 L92,18.5 Z" fill="#e8c02c" stroke="#a8761a" stroke-width="1"/><path d="M84,13 L88.5,6 L95.5,10.2" fill="none" stroke="#fbe78a" stroke-width="1.5"/><path d="M92,18.5 L97.5,10 L97.8,12 L92.5,19.3 Z" fill="#b07a20"/><path d="M112.5,4.5 L115,3 H123 V13 H112.5 Z" fill="#2a9df4" stroke="#1a6fc9" stroke-width="0.8"/><path d="M115,3 V13" stroke="#c8e8ff" stroke-width="1"/><rect x="117" y="7.5" width="5" height="1.5" fill="#e8f6ff"/><path d="M111,17.5 Q109.5,14.5 113,14 Q114,11 117.5,12 Q119.5,10.8 121.5,12.5 Q125.5,12.5 125.5,16 Q125.5,18.5 123,18.5 H112.5 Q111,18.5 111,17.5 Z" fill="#eef1f6" stroke="#51679a" stroke-width="1"/><path d="M146.3,3.0999999999999996 A7.5,7.5 0 0 0 146.3,18.1" fill="none" stroke="#3b6fd0" stroke-width="1" opacity="0.55"/><path d="M146.3,3.0999999999999996 A7.5,7.5 0 0 1 146.3,18.1" fill="none" stroke="#6aa86a" stroke-width="1" opacity="0.55"/><path d="M146.3,5.3999999999999995 A5.2,5.2 0 0 0 146.3,15.8" fill="none" stroke="#3b6fd0" stroke-width="1" opacity="0.75"/><path d="M146.3,5.3999999999999995 A5.2,5.2 0 0 1 146.3,15.8" fill="none" stroke="#6aa86a" stroke-width="1" opacity="0.75"/><path d="M146.3,7.6 A3,3 0 0 0 146.3,13.6" fill="none" stroke="#3b6fd0" stroke-width="1" opacity="0.9"/><path d="M146.3,7.6 A3,3 0 0 1 146.3,13.6" fill="none" stroke="#6aa86a" stroke-width="1" opacity="0.9"/><circle cx="146.3" cy="10.6" r="1.6" fill="#2850c8"/><rect x="146" y="10.6" width="1.4" height="8" fill="#22aa22"/><path d="M166.5,10.5 L173,18.5 L181,17 L180.5,9.5 Z" fill="#f5dc55" stroke="#c9a227" stroke-width="0.8"/><ellipse cx="173.5" cy="7.5" rx="7.8" ry="2.8" fill="#6bb8e8" stroke="#3a88c0" stroke-width="0.8"/><ellipse cx="173.5" cy="5.5" rx="4" ry="2.8" fill="#8fd0f4" stroke="#3a88c0" stroke-width="0.8"/><circle cx="177.4" cy="14.6" r="4.3" fill="#e02a10" stroke="#b01a08" stroke-width="0.6"/><rect x="175.9" y="13.1" width="3" height="3" fill="#fff"/><g fill="none" stroke="#000" stroke-width="1"><path d="M190.8,4.2 L190.4,5.6"/><path d="M187.5,6.5 H196.5 V14.5 H187.5 Z"/><path d="M187.5,9.5 H196.5"/><path d="M187.5,11.5 H196.5"/><path d="M199,5.5 H203.7"/><path d="M198.5,8.5 H204.3"/><path d="M202,9 L199.5,13.5 L204,12.8"/><path d="M202.5,11 L204,14.5"/><path d="M203,6.5 H208.5 V14.5 L206.5,14.2"/><path d="M206,4.2 V8 Q205.8,12 203.7,14.6"/><path d="M215.5,4.2 V5.7"/><path d="M210.4,6.5 H221.8"/><path d="M213.5,8.5 L211,10.9"/><path d="M218.1,8.5 L220.6,10.9"/><path d="M213.2,11.8 L220.9,14.6"/><path d="M218.1,11.8 L210.7,14.6"/><path d="M224.5,4.5 H231.5 V8.5 H224.5 Z"/><path d="M224.5,6.5 H231.5"/><path d="M223.6,10.5 H232.5 V13 L231.3,14.6"/><path d="M224.9,9.1 L222.4,11.8"/><path d="M227.6,11.2 L224,14"/><path d="M230.1,11.2 L226.4,14.6"/></g><rect x="241" y="0" width="1" height="21" fill="#a0a0a0"/><rect x="242" y="0" width="1" height="21" fill="#ffffff" opacity="0.8"/><rect x="245" y="1" width="3" height="1" fill="#9a9a9a"/><rect x="245" y="3" width="3" height="1" fill="#9a9a9a"/><rect x="245" y="5" width="3" height="1" fill="#9a9a9a"/><rect x="245" y="7" width="3" height="1" fill="#9a9a9a"/><rect x="245" y="9" width="3" height="1" fill="#9a9a9a"/><rect x="245" y="11" width="3" height="1" fill="#9a9a9a"/><rect x="245" y="13" width="3" height="1" fill="#9a9a9a"/><rect x="245" y="15" width="3" height="1" fill="#9a9a9a"/><rect x="245" y="17" width="3" height="1" fill="#9a9a9a"/><rect x="245" y="19" width="3" height="1" fill="#9a9a9a"/><rect x="258.9" y="5.5" width="1.4" height="13" fill="#555"/><polygon points="257.5,7.5 259.6,4.8 261.7,7.5" fill="#555"/><rect x="257.3" y="15.799999999999999" width="13" height="1.4" fill="#555"/><polygon points="269.5,14.2 272.5,16.5 269.5,18.799999999999997" fill="#555"/><path d="M265.5,6.2 V14.5 M265.5,7.4 H268.2 M265.5,13.5 H263" stroke="#1e9a1e" stroke-width="1.3" fill="none"/><rect x="279" y="0" width="1" height="21" fill="#a0a0a0"/><rect x="280" y="0" width="1" height="21" fill="#ffffff" opacity="0.8"/><rect x="280" y="0" width="24" height="21" fill="#f7f7f7"/><rect x="286.9" y="5.5" width="1.4" height="13" fill="#555"/><polygon points="285.5,7.5 287.6,4.8 289.7,7.5" fill="#555"/><rect x="285.3" y="15.799999999999999" width="13" height="1.4" fill="#555"/><polygon points="297.5,14.2 300.5,16.5 297.5,18.799999999999997" fill="#555"/><rect x="293" y="3.3" width="1.2" height="11.3" fill="#1a8a1a"/><rect x="291.3" y="5.2" width="4.6" height="7.6" fill="#3ee83e" stroke="#1a8a1a" stroke-width="0.9"/><rect x="314.79999999999995" y="5.5" width="1.4" height="13" fill="#555"/><polygon points="313.4,7.5 315.5,4.8 317.59999999999997,7.5" fill="#555"/><rect x="313.2" y="15.799999999999999" width="13" height="1.4" fill="#555"/><polygon points="325.4,14.2 328.4,16.5 325.4,18.799999999999997" fill="#555"/><path d="M314.3,13.6 Q320,5.5 322.5,9 Q324.5,11.5 325.8,12.1" fill="none" stroke="#2a9a2a" stroke-width="1.1"/><rect x="336" y="0" width="1" height="21" fill="#a0a0a0"/><rect x="337" y="0" width="1" height="21" fill="#ffffff" opacity="0.8"/><line x1="355.1" y1="13.2" x2="359.6" y2="17.5" stroke="#b08a1a" stroke-width="3.2"/><line x1="355.1" y1="13.2" x2="359.6" y2="17.5" stroke="#e8d04a" stroke-width="1.8"/><circle cx="351.1" cy="8.9" r="5.4" fill="#d6eefa" stroke="#3a7ec8" stroke-width="1"/><rect x="348.1" y="8.2" width="6" height="1.6" fill="#3a78a8"/><rect x="350.3" y="5.9" width="1.6" height="6" fill="#3a78a8"/><line x1="383.1" y1="13.2" x2="387.6" y2="17.5" stroke="#b08a1a" stroke-width="3.2"/><line x1="383.1" y1="13.2" x2="387.6" y2="17.5" stroke="#e8d04a" stroke-width="1.8"/><circle cx="379.1" cy="8.9" r="5.4" fill="#d6eefa" stroke="#3a7ec8" stroke-width="1"/><rect x="376.1" y="8.2" width="6" height="1.6" fill="#3a78a8"/><rect x="401" y="3.3" width="7.8" height="7.6" fill="#2f9a1e"/><rect x="402.2" y="6.9" width="5.4" height="2.6" fill="#ffffff"/><rect x="403" y="7.5" width="3.8" height="0.9" fill="#9ad28a"/><rect x="409" y="3.3" width="7.8" height="7.6" fill="#1f5fd0"/><rect x="410.2" y="6.9" width="5.4" height="2.6" fill="#ffffff"/><rect x="411" y="7.5" width="3.8" height="0.9" fill="#9ad28a"/><rect x="401" y="11.1" width="7.8" height="7.6" fill="#1f5fd0"/><rect x="402.2" y="14.7" width="5.4" height="2.6" fill="#ffffff"/><rect x="403" y="15.3" width="3.8" height="0.9" fill="#9ad28a"/><rect x="409" y="11.1" width="7.8" height="7.6" fill="#2f9a1e"/><rect x="410.2" y="14.7" width="5.4" height="2.6" fill="#ffffff"/><rect x="411" y="15.3" width="3.8" height="0.9" fill="#9ad28a"/><rect x="426" y="0" width="1" height="21" fill="#a0a0a0"/><rect x="427" y="0" width="1" height="21" fill="#ffffff" opacity="0.8"/><rect x="431" y="0" width="1" height="21" fill="#a0a0a0"/><rect x="432" y="0" width="1" height="21" fill="#ffffff" opacity="0.8"/><rect x="432" y="0" width="24" height="21" fill="#f7f7f7"/><rect x="438.9" y="5.5" width="1.4" height="13" fill="#555"/><polygon points="437.5,7.5 439.6,4.8 441.7,7.5" fill="#555"/><rect x="437.3" y="15.799999999999999" width="13" height="1.4" fill="#555"/><polygon points="449.5,14.2 452.5,16.5 449.5,18.799999999999997" fill="#555"/><polygon points="443.9,7.1 448,10.5 443.9,13.9" fill="#3fd03f" stroke="#1a9a1a" stroke-width="0.9"/><rect x="459" y="0" width="1" height="21" fill="#a0a0a0"/><rect x="460" y="0" width="1" height="21" fill="#ffffff" opacity="0.8"/><rect x="460" y="0" width="24" height="21" fill="#f7f7f7"/><rect x="466.79999999999995" y="5.5" width="1.4" height="13" fill="#555"/><polygon points="465.4,7.5 467.5,4.8 469.59999999999997,7.5" fill="#555"/><rect x="465.2" y="15.799999999999999" width="13" height="1.4" fill="#555"/><polygon points="477.4,14.2 480.4,16.5 477.4,18.799999999999997" fill="#555"/><rect x="472.8" y="5" width="1.3" height="9.8" fill="#1a68a8"/><path d="M479,10.3 H475 M476.8,8.2 L474.6,10.3 L476.8,12.4" stroke="#e2501a" stroke-width="1.4" fill="none"/><rect x="488" y="0" width="1" height="21" fill="#a0a0a0"/><rect x="489" y="0" width="1" height="21" fill="#ffffff" opacity="0.8"/><path d="M498.5,3.5 h7.5 l3.5,3.5 v9.5 h-11 z" fill="#fafafa" stroke="#777" stroke-width="1"/><path d="M501.5,7.5 Q500.5,11 501.5,14" stroke="#555" stroke-width="0.8" fill="none"/><path d="M506,9.2 h4 v4 h4 v3.8 h-4 v3.9 h-4 v-3.9 h-4 v-3.8 h4 z" fill="#22c822" stroke="#0a8a0a" stroke-width="0.8"/><rect x="507" y="10.5" width="2" height="9" fill="#4cf04c"/><rect x="503.5" y="14" width="9.5" height="2" fill="#4cf04c"/><polygon points="519.8,10 525.3,10 522.55,13" fill="#000"/><circle cx="543.9" cy="10.9" r="7.2" fill="#ffffff" stroke="#1a6ad0" stroke-width="2"/><circle cx="543.9" cy="10.9" r="8.1" fill="none" stroke="#0c4aa0" stroke-width="0.6"/><path d="M543.5,6 V11.2 L546.5,11.2" stroke="#222" stroke-width="1" fill="none"/><polygon points="559,10 564.5,10 561.75,13" fill="#000"/><rect x="575.5" y="4.3" width="15" height="13" fill="#ffffff" stroke="#2a6ac8" stroke-width="1"/><rect x="576" y="4.8" width="14" height="1.8" fill="#4a8ae0"/><rect x="576" y="11" width="14" height="1" fill="#2a6ac8"/><path d="M577,10 L579,10 L582,8 L584,9 L587,8 L589,8.3" stroke="#a02a10" stroke-width="0.9" fill="none"/><path d="M578,15.5 L580,15 L582,15.5 L584.5,13 L587,15.5" stroke="#1a9a1a" stroke-width="0.9" fill="none"/><polygon points="598,10 603.5,10 600.75,13" fill="#000"/><rect x="609" y="0" width="1" height="21" fill="#a0a0a0"/><rect x="610" y="0" width="1" height="21" fill="#ffffff" opacity="0.8"/><rect x="613" y="1" width="3" height="1" fill="#9a9a9a"/><rect x="613" y="3" width="3" height="1" fill="#9a9a9a"/><rect x="613" y="5" width="3" height="1" fill="#9a9a9a"/><rect x="613" y="7" width="3" height="1" fill="#9a9a9a"/><rect x="613" y="9" width="3" height="1" fill="#9a9a9a"/><rect x="613" y="11" width="3" height="1" fill="#9a9a9a"/><rect x="613" y="13" width="3" height="1" fill="#9a9a9a"/><rect x="613" y="15" width="3" height="1" fill="#9a9a9a"/><rect x="613" y="17" width="3" height="1" fill="#9a9a9a"/><rect x="613" y="19" width="3" height="1" fill="#9a9a9a"/><rect x="619" y="0" width="1" height="21" fill="#a0a0a0"/><rect x="620" y="0" width="1" height="21" fill="#ffffff" opacity="0.8"/><rect x="620" y="0" width="24" height="21" fill="#f7f7f7"/><path d="M627,4.6 L627,16.5 L629.8,13.8 L632.2,18.3 L634,17.4 L631.8,13 L635.6,12.8 Z" fill="#222"/><rect x="651.8" y="11" width="15.4" height="1" fill="#444"/><rect x="659" y="4.5" width="1" height="14" fill="#444"/><rect x="658.5" y="10.5" width="2" height="2" fill="#f0f0f0"/><rect x="676" y="0" width="1" height="21" fill="#a0a0a0"/><rect x="677" y="0" width="1" height="21" fill="#ffffff" opacity="0.8"/><rect x="693" y="5.5" width="1" height="12" fill="#444"/><rect x="716" y="11" width="12.3" height="1" fill="#444"/><line x1="744" y1="17.8" x2="756.6" y2="5.5" stroke="#444" stroke-width="1"/><g stroke="#555" stroke-width="1" fill="none"><path d="M770,15 L781,4"/><path d="M772,17 L783,6"/><path d="M772,8 L775,14 M775,6 L778,12 M778,4 L781,10"/></g><text x="780" y="19.5" font-family="Liberation Sans" font-weight="bold" font-size="6.5" fill="#505050">E</text><g fill="#777"><rect x="799" y="4" width="1" height="1"/><rect x="801" y="4" width="1" height="1"/><rect x="803" y="4" width="1" height="1"/><rect x="805" y="4" width="1" height="1"/><rect x="807" y="4" width="1" height="1"/><rect x="809" y="4" width="1" height="1"/><rect x="811" y="4" width="1" height="1"/><rect x="799" y="7" width="1" height="1"/><rect x="801" y="7" width="1" height="1"/><rect x="803" y="7" width="1" height="1"/><rect x="805" y="7" width="1" height="1"/><rect x="807" y="7" width="1" height="1"/><rect x="809" y="7" width="1" height="1"/><rect x="811" y="7" width="1" height="1"/><rect x="799" y="11" width="1" height="1"/><rect x="801" y="11" width="1" height="1"/><rect x="803" y="11" width="1" height="1"/><rect x="805" y="11" width="1" height="1"/><rect x="807" y="11" width="1" height="1"/><rect x="809" y="11" width="1" height="1"/><rect x="811" y="11" width="1" height="1"/><rect x="799" y="15" width="1" height="1"/><rect x="801" y="15" width="1" height="1"/><rect x="803" y="15" width="1" height="1"/><rect x="805" y="15" width="1" height="1"/><rect x="807" y="15" width="1" height="1"/><rect x="809" y="15" width="1" height="1"/><rect x="811" y="15" width="1" height="1"/></g><text x="808" y="19.5" font-family="Liberation Sans" font-weight="bold" font-size="6.5" fill="#505050">F</text><text x="829.3" y="15.8" font-family="Liberation Sans" font-size="11" fill="#505050" textLength="8.4" lengthAdjust="spacingAndGlyphs">A</text><g fill="#666"><rect x="856" y="5" width="1" height="1"/><rect x="856" y="17" width="1" height="1"/><rect x="858" y="5" width="1" height="1"/><rect x="858" y="17" width="1" height="1"/><rect x="860" y="5" width="1" height="1"/><rect x="860" y="17" width="1" height="1"/><rect x="862" y="5" width="1" height="1"/><rect x="862" y="17" width="1" height="1"/><rect x="864" y="5" width="1" height="1"/><rect x="864" y="17" width="1" height="1"/><rect x="866" y="5" width="1" height="1"/><rect x="866" y="17" width="1" height="1"/><rect x="856" y="7" width="1" height="1"/><rect x="867" y="7" width="1" height="1"/><rect x="856" y="9" width="1" height="1"/><rect x="867" y="9" width="1" height="1"/><rect x="856" y="11" width="1" height="1"/><rect x="867" y="11" width="1" height="1"/><rect x="856" y="13" width="1" height="1"/><rect x="867" y="13" width="1" height="1"/><rect x="856" y="15" width="1" height="1"/><rect x="867" y="15" width="1" height="1"/><rect x="855" y="4" width="2" height="1.5"/></g><rect x="858" y="8" width="8" height="1.4" fill="#555"/><rect x="861.3" y="8" width="1.5" height="7.8" fill="#555"/><polygon points="883,9.6 886.6,5 890,9.6" fill="#555"/><path d="M885.2,12.3 L887.4,14.6 L891.9,9.4" stroke="#444" stroke-width="1.1" fill="none"/><polygon points="890,13.6 897,13.6 893.5,17.9" fill="#555"/><polygon points="903.5,10 909.0,10 906.25,13" fill="#000"/><rect x="915" y="0" width="1" height="21" fill="#a0a0a0"/><rect x="916" y="0" width="1" height="21" fill="#ffffff" opacity="0.8"/><rect x="919" y="1" width="3" height="1" fill="#9a9a9a"/><rect x="919" y="3" width="3" height="1" fill="#9a9a9a"/><rect x="919" y="5" width="3" height="1" fill="#9a9a9a"/><rect x="919" y="7" width="3" height="1" fill="#9a9a9a"/><rect x="919" y="9" width="3" height="1" fill="#9a9a9a"/><rect x="919" y="11" width="3" height="1" fill="#9a9a9a"/><rect x="919" y="13" width="3" height="1" fill="#9a9a9a"/><rect x="919" y="15" width="3" height="1" fill="#9a9a9a"/><rect x="919" y="17" width="3" height="1" fill="#9a9a9a"/><rect x="919" y="19" width="3" height="1" fill="#9a9a9a"/><rect x="1066" y="0" width="24" height="21" fill="#f7f7f7"/><rect x="1065" y="0" width="1" height="21" fill="#a0a0a0"/><text x="930.7" y="15" font-family="Liberation Sans" font-size="9.6" fill="#2a2a2a" textLength="12.4" lengthAdjust="spacingAndGlyphs">M1</text><text x="958.8" y="15" font-family="Liberation Sans" font-size="9.6" fill="#2a2a2a" textLength="12.4" lengthAdjust="spacingAndGlyphs">M5</text><text x="984.5" y="15" font-family="Liberation Sans" font-size="9.6" fill="#2a2a2a" textLength="17.3" lengthAdjust="spacingAndGlyphs">M15</text><text x="1012.6" y="15" font-family="Liberation Sans" font-size="9.6" fill="#2a2a2a" textLength="17.4" lengthAdjust="spacingAndGlyphs">M30</text><text x="1043.7" y="15" font-family="Liberation Sans" font-size="9.6" fill="#2a2a2a" textLength="11.6" lengthAdjust="spacingAndGlyphs">H1</text><text x="1070.5" y="15" font-family="Liberation Sans" font-size="9.6" fill="#2a2a2a" textLength="12.5" lengthAdjust="spacingAndGlyphs">H4</text><text x="1099.5" y="15" font-family="Liberation Sans" font-size="9.6" fill="#2a2a2a" textLength="11.5" lengthAdjust="spacingAndGlyphs">D1</text><text x="1126.8" y="15" font-family="Liberation Sans" font-size="9.6" fill="#2a2a2a" textLength="14.5" lengthAdjust="spacingAndGlyphs">W1</text><text x="1153.3" y="15" font-family="Liberation Sans" font-size="9.6" fill="#2a2a2a" textLength="14.8" lengthAdjust="spacingAndGlyphs">MN</text><rect x="1176" y="0" width="1" height="21" fill="#a0a0a0"/><rect x="1177" y="0" width="1" height="21" fill="#ffffff" opacity="0.8"/><circle cx="1646.4" cy="8.3" r="3.9" fill="#fbfbff" stroke="#2a62d8" stroke-width="1.3"/><line x1="1643.7" y1="11.2" x2="1639.3" y2="15.6" stroke="#2a5ad0" stroke-width="2"/><path d="M1664,13.5 Q1664,8.5 1670,8.5 Q1675.5,8.5 1675.5,13 Q1675.5,17 1670,17 L1667.3,19.5 L1667.5,16.8 Q1664,16 1664,13.5 Z" fill="#e8e8ee" stroke="#9a9a9a" stroke-width="0.9"/><circle cx="1677.4" cy="8.2" r="8.2" fill="#e23a1c"/><text x="1674.5" y="12.6" font-family="Liberation Serif" font-weight="bold" font-size="11" fill="#fff">1</text>
</svg>
</body></html>
